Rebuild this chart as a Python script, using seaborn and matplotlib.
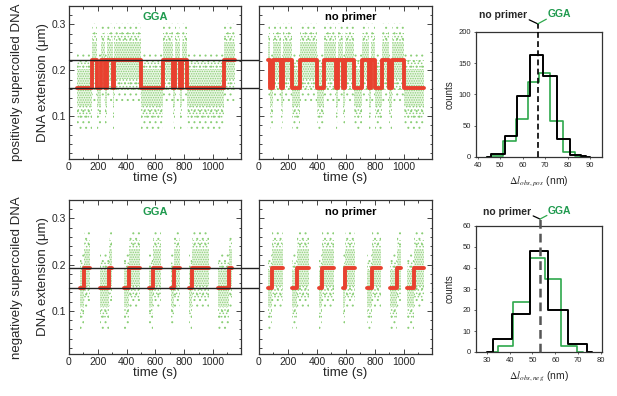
import numpy as np
import pandas as pd
import matplotlib
matplotlib.use('Agg')
from matplotlib import pyplot as plt
from matplotlib.ticker import MultipleLocator, FormatStrFormatter
import seaborn as sns

############ --------------- DATA --------------- ###########
# plateau levels of the filtered (red) trace, um
pos_levels = {'H': 0.222, 'L': 0.162}
neg_levels = {'H': 0.194, 'L': 0.149}

# dwell boundaries (s) and the state of each dwell; '-' = no data recorded
pos_gga_edges = [58, 160, 193, 220, 252, 262, 305, 314, 500, 650, 725, 735, 772, 782, 823, 1075, 1150]
pos_gga_states = 'LHLHLHLHLHLHLHLH'

pos_nop_edges = [60, 78, 100, 150, 168, 228, 285, 400, 446, 530, 545, 580, 595, 654, 712, 760,
                 775, 804, 850, 897, 920, 1005, 1140]
pos_nop_states = 'HLHLHLHLHLHLHLHLHLHLHL'

neg_gga_edges = [77, 107, 147, 217, 280, 298, 380, 420, 490, 555, 583, 636, 706, 730, 770, 835,
                 858, 975, 1032, 1114, 1135]
neg_gga_states = 'LH-LH-LH-LH-LH-LH-LH'

neg_nop_edges = [65, 88, 169, 231, 261, 342, 412, 435, 516, 578, 597, 666, 747, 782, 840, 908,
                 955, 978, 1024, 1070, 1140]
neg_nop_states = 'LH-LH-LH-LH-LH-LH-LH'

# step size histograms (bin edges in nm, counts per bin)
pos_nop_bins = [44, 46, 52, 57.5, 63.2, 69, 75.2, 81, 86, 88, 90]
pos_nop_counts = [0, 4, 33, 98, 163, 130, 28, 3, 1, 0]
pos_gga_bins = [44, 46, 51.5, 57, 62.4, 67.1, 72.3, 77.9, 83.1, 85.3, 87]
pos_gga_counts = [0, 2, 25, 61, 120, 135, 58, 8, 2, 0]
pos_mean = 66.7

neg_nop_bins = [30, 32.6, 41.2, 48.7, 57, 65.4, 73.8, 76]
neg_nop_counts = [0, 6, 18, 48, 20, 4, 0]
neg_gga_bins = [32, 34.9, 41.6, 48.9, 55.4, 62.3, 69.3, 72]
neg_gga_counts = [0, 3, 24, 45, 35, 3, 0]
neg_mean = 53.3

############ --------------- STYLE --------------- ###########
sns.set_style('ticks', {'xtick.direction': 'in', 'ytick.direction': 'in'})
plt.rcParams['font.family'] = ['Liberation Sans', 'DejaVu Sans']
plt.rcParams['mathtext.fontset'] = 'stix'
plt.rcParams['hatch.linewidth'] = 0.7
dotgreen = '#8ccf78'
plt.rcParams['hatch.color'] = dotgreen

textgreen = '#1f9a4e'
histgreen = '#2ea84c'
myred = '#e8412f'

W, H = 617, 396
fig = plt.figure(figsize=(W / 100, H / 100), dpi=100)


def px_axes(x0, x1, y0, y1):
    return fig.add_axes([x0 / W, 1 - y1 / H, (x1 - x0) / W, (y1 - y0) / H])


ax_tl = px_axes(69, 241, 6, 159)
ax_tm = px_axes(259, 432, 6, 159)
ax_bl = px_axes(69, 241, 200, 354)
ax_bm = px_axes(259, 432, 200, 354)
ax_th = px_axes(476, 602, 32, 157)
ax_bh = px_axes(476, 602, 226, 352)


def trace_xy(edges, states, levels):
    xs, ys = [], []
    for t0, t1, s in zip(edges[:-1], edges[1:], states):
        if s == '-':
            xs.append(np.nan)
            ys.append(np.nan)
            continue
        xs += [t0, t1]
        ys += [levels[s], levels[s]]
    return np.array(xs, dtype=float), np.array(ys, dtype=float)


# nested dotted bands standing in for the raw (green) data cloud:
# (below, above the plateau in um, hatch density, face colour)
cloud_bands = [(0.09, 0.08, '...', 'none'),
               (0.065, 0.06, '.....', 'none'),
               (0.04, 0.04, '.......', '#e9f6e3')]


def plot_trace(ax, edges, states, levels, label):
    for t0, t1, s in zip(edges[:-1], edges[1:], states):
        if s == '-':
            continue
        y = levels[s]
        for lo, hi, hatch, face in cloud_bands:
            ax.fill_between([t0, t1], y - lo, y + hi, facecolor=face,
                            edgecolor=dotgreen, hatch=hatch, linewidth=0, zorder=1)
    tx, ty = trace_xy(edges, states, levels)
    ax.plot(tx, ty, color=myred, lw=2.8, zorder=3)

    ax.set_xlim(0, 1195)
    ax.set_ylim(0.007, 0.34)
    ax.xaxis.set_major_locator(MultipleLocator(200))
    ax.xaxis.set_minor_locator(MultipleLocator(100))
    ax.yaxis.set_major_locator(MultipleLocator(0.1))
    ax.yaxis.set_minor_locator(MultipleLocator(0.02))
    ax.yaxis.set_major_formatter(FormatStrFormatter('%.1f'))
    ax.tick_params(which='both', top=True, right=True, direction='in', width=0.6,
                   labelsize=7.5, pad=2)
    ax.tick_params(which='major', length=3.5)
    ax.tick_params(which='minor', length=1.8)
    for sp in ax.spines.values():
        sp.set_linewidth(0.9)
        sp.set_color('#333333')
    ax.set_xlabel('time (s)', fontsize=9.5)
    ax.xaxis.set_label_coords(0.5, -0.085)
    ax.text(0.5 if label == 'GGA' else 0.53, 0.925, label, transform=ax.transAxes,
            ha='center', va='center', fontsize=8, weight='bold',
            color=textgreen if label == 'GGA' else 'black')


plot_trace(ax_tl, pos_gga_edges, pos_gga_states, pos_levels, 'GGA')
plot_trace(ax_tm, pos_nop_edges, pos_nop_states, pos_levels, 'no primer')
plot_trace(ax_bl, neg_gga_edges, neg_gga_states, neg_levels, 'GGA')
plot_trace(ax_bm, neg_nop_edges, neg_nop_states, neg_levels, 'no primer')
ax_tm.set_yticklabels([])
ax_bm.set_yticklabels([])

for ax in [ax_tl, ax_bl]:
    ax.set_ylabel('DNA extension (\u03bcm)', fontsize=9.5)
    ax.yaxis.set_label_coords(-0.115, 0.5)

# plateau lines running through both panels of a row
p_l = ax_tl.get_position()
p_m = ax_tm.get_position()
span = (p_m.x1 - p_l.x0) / p_l.width
for lvl in pos_levels.values():
    ax_tl.axhline(lvl, xmin=0, xmax=span, color='#222222', lw=1.0, clip_on=False, zorder=5)
for lvl in neg_levels.values():
    ax_bl.axhline(lvl, xmin=0, xmax=span, color='#222222', lw=1.0, clip_on=False, zorder=5)

fig.text(17 / W, 1 - 82 / H, 'positively supercoiled DNA', rotation=90,
         ha='center', va='center', fontsize=9.5)
fig.text(17 / W, 1 - 278 / H, 'negatively supercoiled DNA', rotation=90,
         ha='center', va='center', fontsize=9.5)


############ --------------- HISTOGRAMS --------------- ###########
def plot_hist(ax, bins_k, counts_k, bins_g, counts_g, mean, xlim, ylim, ystep,
              xlab, dash_color, dash_lw, vtip, arm):
    for bins, counts, col, lw in [(bins_g, counts_g, histgreen, 1.2),
                                  (bins_k, counts_k, 'black', 1.4)]:
        edges = np.array(bins, dtype=float)
        df = pd.DataFrame({'dl': 0.5 * (edges[:-1] + edges[1:]),
                           'n': np.array(counts, dtype=float)})
        sns.histplot(data=df, x='dl', weights='n', bins=list(bins), element='step',
                     fill=False, color=col, linewidth=lw, ax=ax)
    ax.set_xlim(*xlim)
    ax.set_ylim(*ylim)
    ax.yaxis.set_major_locator(MultipleLocator(ystep))
    ax.xaxis.set_major_locator(MultipleLocator(10))
    ax.tick_params(which='both', direction='out', length=1.5, width=0.5,
                   labelsize=5.5, pad=2)
    for sp in ax.spines.values():
        sp.set_linewidth(0.9)
        sp.set_color('#333333')
    ax.set_ylabel('counts', fontsize=7)
    ax.set_xlabel(xlab, fontsize=7.5)
    ax.xaxis.set_label_coords(0.5, -0.14)
    ax.yaxis.set_label_coords(-0.17, 0.5)
    # dashed mean line with pointer to the two labels
    ax.plot([mean, mean], [ylim[0], vtip], ls=(0, (3.5, 2)), color=dash_color,
            lw=dash_lw, clip_on=False, zorder=4)
    dx, dy = arm
    ax.plot([mean - dx, mean], [vtip + dy, vtip], color='black', lw=0.9, clip_on=False)
    ax.plot([mean, mean + dx], [vtip, vtip + dy * 1.15], color=histgreen, lw=0.9, clip_on=False)
    ax.text(mean - dx * 1.25, vtip + dy * 2.2, 'no primer', ha='right', va='center',
            fontsize=7.5, weight='bold')
    ax.text(mean + dx * 1.15, vtip + dy * 2.5, 'GGA', ha='left', va='center',
            fontsize=7.5, weight='bold', color=textgreen)


plot_hist(ax_th, pos_nop_bins, pos_nop_counts, pos_gga_bins, pos_gga_counts, pos_mean,
          (39.3, 95.2), (0, 200), 50, r'$\Delta l_{obs,pos}$ (nm)', 'black', 1.2, 213, (3.8, 6.5))
plot_hist(ax_bh, neg_nop_bins, neg_nop_counts, neg_gga_bins, neg_gga_counts, neg_mean,
          (25.3, 80.4), (0, 60), 10, r'$\Delta l_{obs,neg}$ (nm)', '#555555', 1.8, 63.3, (3.0, 1.5))

fig.savefig('out.png', dpi=100)
